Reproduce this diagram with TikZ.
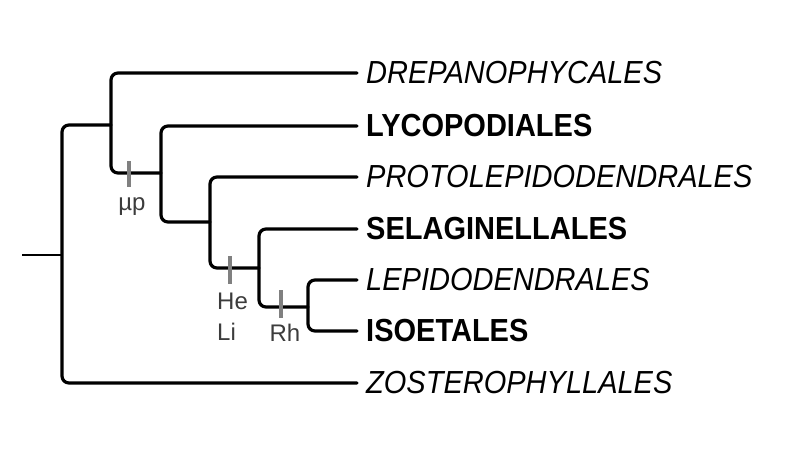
\documentclass[tikz,border=0pt]{standalone}
\usepackage{fontspec}
\setmainfont{Liberation Sans}
\usepackage{xcolor}
\usetikzlibrary{positioning,calc}
\definecolor{tickgray}{RGB}{128,128,128}
\definecolor{labelgray}{RGB}{60,60,60}
\newcommand{\tallname}[1]{\scalebox{1}[1.1]{#1}}
\tikzset{
  branch/.style={line width=3.2pt, rounded corners=7pt, line cap=round},
  taxon/.style={anchor=west, inner xsep=9pt, inner ysep=0pt, font=\fontsize{29}{34}\selectfont},
  basal/.style={taxon, font=\fontsize{29}{34}\selectfont\itshape},
  crown/.style={taxon, font=\fontsize{29}{34}\selectfont\bfseries},
  synapo/.style={line width=3.4pt, draw=tickgray},
  charlabel/.style={inner sep=0pt, text=labelgray, font=\fontsize{24}{28}\selectfont}
}

\begin{document}
\begin{tikzpicture}[x=1pt, y=-1pt]
  \useasboundingbox (0,0) rectangle (800,463);
  % leaves
  \node[basal] (drep) at (357,73) {\tallname{DREPANOPHYCALES}};
  \node[crown] (lyco) at (357,126) {\tallname{LYCOPODIALES}};
  \node[basal] (prot) at (357,177) {\tallname{PROTOLEPIDODENDRALES}};
  \node[crown] (sela) at (357,229) {\tallname{SELAGINELLALES}};
  \node[basal] (lepi) at (357,280) {\tallname{LEPIDODENDRALES}};
  \node[crown] (isoe) at (357,331) {\tallname{ISOETALES}};
  \node[basal] (zost) at (357,383) {\tallname{ZOSTEROPHYLLALES}};
  % internal nodes
  \coordinate (stub) at (22,255);
  \coordinate (root) at (62,255);
  \coordinate (nA) at (111,125);
  \coordinate (nB) at (161,173);
  \coordinate (nC) at (210,222);
  \coordinate (nD) at (259,268);
  \coordinate (nE) at (308,307);
  % tree
  \draw[line width=2.4pt] (stub) -- (root);
  \draw[branch] (nA) -| (root) |- (zost.west);
  \draw[branch] (drep.west) -| (nA) |- (nB);
  \draw[branch] (lyco.west) -| (nB) |- (nC);
  \draw[branch] (prot.west) -| (nC) |- (nD);
  \draw[branch] (sela.west) -| (nD) |- (nE);
  \draw[branch] (lepi.west) -| (nE) |- (isoe.west);
  % characters
  \draw[synapo] ($(nB)+(-32,-12)$) -- ++(0,26);
  \draw[synapo] ($(nD)+(-29,-12)$) -- ++(0,28);
  \draw[synapo] ($(nE)+(-27,-17)$) -- ++(0,28);
  \node[charlabel] (mup) at (132,207) {µp};
  \node[charlabel, anchor=west] (he) at (217,301) {He};
  \node[charlabel, anchor=west] (li) at (217,332) {Li};
  \node[charlabel] (rh) at (285,333) {Rh};
\end{tikzpicture}
\end{document}
